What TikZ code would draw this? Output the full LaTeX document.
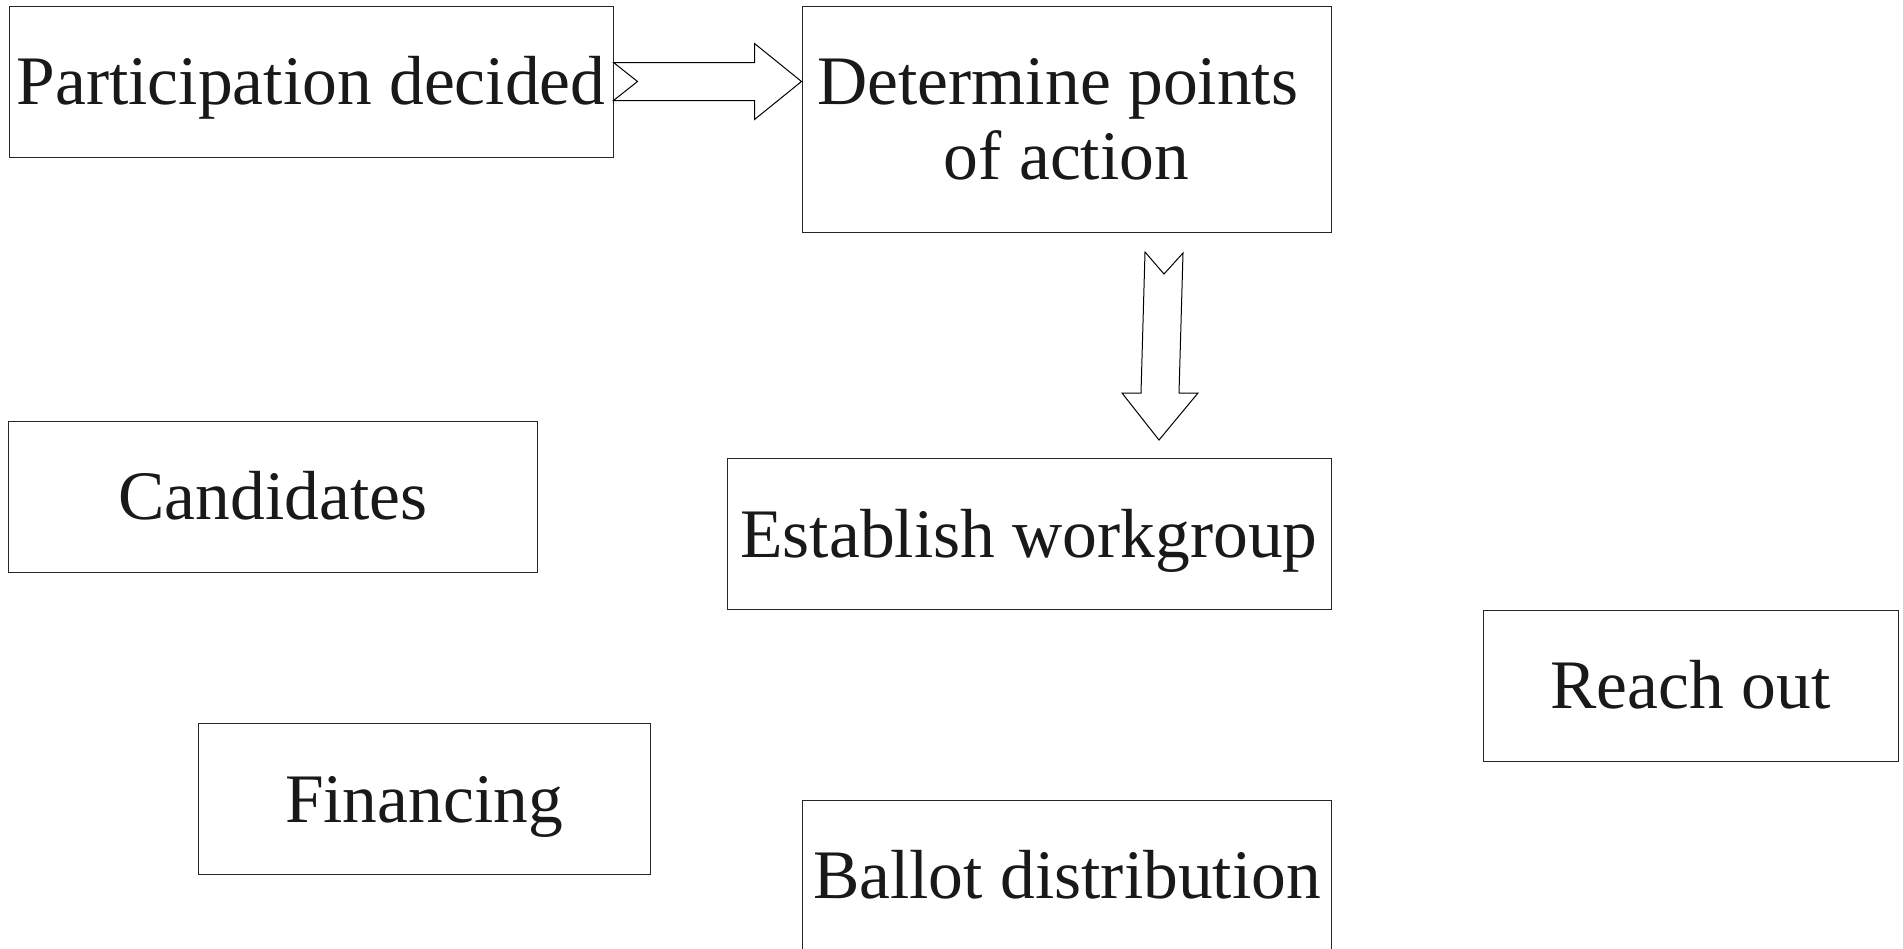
\documentclass[tikz,border=0pt]{standalone}
\usepackage{fontspec}
\setmainfont{Liberation Serif}
\usetikzlibrary{calc}
\tikzset{
  box/.style={draw=black!85, line width=1pt, minimum height=151pt, inner sep=0pt,
    align=center, text=black!90, text height=46pt, text depth=0pt,
    font=\fontsize{69.5}{75}\selectfont},
  blockarrow/.style={draw, fill=white, line width=1pt, line join=miter}
}
\begin{document}
\begin{tikzpicture}[x=1pt,y=-1pt]
      \useasboundingbox (0,0) rectangle (1903,948);
      \draw
        (311,81.5) node[box, minimum width=604pt] (part){Participation decided}
        (1066.5,119) node[box, minimum width=529pt, minimum height=226pt, text height={}, text depth={}] (det){Determine points\hspace*{.25em}\\of action}
        (273,496.5) node[box, minimum width=529pt] (cand){Candidates}
        (1029,534) node[box, minimum width=604pt] (est){Establish workgroup}
        (1690.5,685.5) node[box, minimum width=415pt] (reach){Reach out}
        (424,799) node[box, minimum width=452pt] (fin){Financing}
        (1067,875.5) node[box, minimum width=529pt] (ballot){Ballot distribution};
      % block arrows
      \coordinate (rtip) at (part.east -| det.west);
      \coordinate (dtail) at (1164,252);
      \coordinate (dtip) at (1159,440);
      \begin{scope}[blockarrow]
        \draw ($(part.east)+(0,-19)$) -- ($(rtip)+(-47,-19)$) -- ($(rtip)+(-47,-38)$)
          -- (rtip) -- ($(rtip)+(-47,38)$) -- ($(rtip)+(-47,19)$)
          -- ($(part.east)+(0,19)$) -- ($(part.east)+(24,0)$) -- cycle;
        \draw ($(dtail)+(-19,0)$) -- ($(dtail)+(0,22)$) -- ($(dtail)+(19,1)$)
          -- ($(dtip)+(20,-47)$) -- ($(dtip)+(39,-47)$) -- (dtip)
          -- ($(dtip)+(-37,-47)$) -- ($(dtip)+(-18,-47)$) -- cycle;
      \end{scope}
    \end{tikzpicture}
\end{document}
